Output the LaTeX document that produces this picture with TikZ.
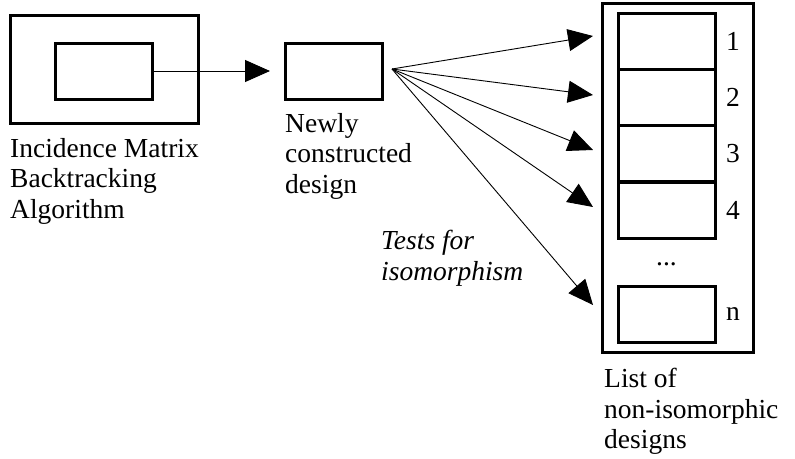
\documentclass[tikz,border=0pt]{standalone}
\usepackage{fontspec}
\setmainfont{Liberation Serif}
\usetikzlibrary{arrows.meta,positioning}

\begin{document}
\begin{tikzpicture}[x=1pt,y=-1pt,
    box/.style={draw, line width=3pt, inner sep=0pt, outer sep=0pt,
                minimum width=97pt, minimum height=56pt},
    lbl/.style={align=left, inner sep=0pt,
                font=\fontsize{27.5}{30.5}\selectfont},
    tip/.style={-{Triangle[length=25pt,width=22pt]}, line width=0.9pt}]
    \useasboundingbox (0,0) rectangle (795,458);

    % Backtracking algorithm
    \node[box, minimum width=188pt, minimum height=108pt] (outer) at (104,69) {};
    \node[box] (alg) at (103.5,71) {};
    \node[lbl, below right=15pt and 0pt of outer.south west]
        (algtxt) {Incidence Matrix\\Backtracking\\Algorithm};

    % New design
    \node[box] (newd) at (333.5,71) {};
    \node[lbl, below right=14pt and 0pt of newd.south west]
        (newtxt) {Newly\\constructed\\design};
    \draw[tip, shorten >=15pt] (alg.east) -- (newd.west);

    % List of designs
    \node[box, minimum width=151pt, minimum height=349pt] (list) at (677.5,177.5) {};
    \foreach \y/\n in {41.5/1, 97/2, 153.5/3, 210/4, 314/n} {
        \node[box] (c\n) at (666.5,\y) {};
        \node[lbl, right=11pt of c\n.east] (num\n) {\n};
    }
    \node[lbl] (dots) at (666.5,264) {...};
    \node[lbl, below right=16pt and 2pt of list.south west]
        (listtxt) {List of\\non-isomorphic\\designs};

    % Isomorphism tests
    \coordinate (fan) at (392,69);
    \foreach \y/\n in {36/1, 95/2, 150/3, 207/4, 305/n} {
        \coordinate (t\n) at (593,\y);
        \draw[tip] (fan) -- (t\n);
    }
    \node[lbl, font=\fontsize{27.5}{30.5}\selectfont\itshape, anchor=north west]
        (tests) at (381,230) {Tests for\\isomorphism};
\end{tikzpicture}
\end{document}
